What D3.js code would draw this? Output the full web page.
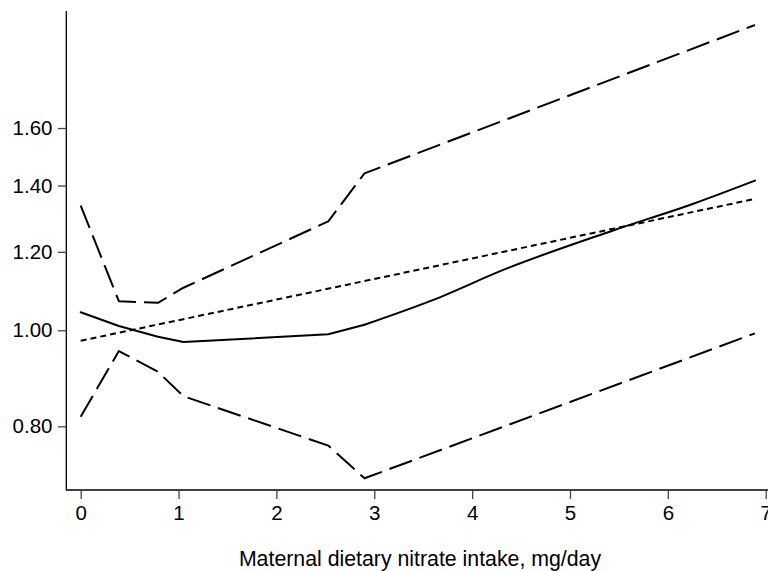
<!DOCTYPE html>
<html>
<head>
<meta charset="utf-8">
<script src="https://cdn.jsdelivr.net/npm/d3@7"></script>
<style>
  html, body { margin: 0; padding: 0; background: #fff; }
  svg { display: block; }
  text { font-family: "Liberation Sans", Arial, Helvetica, sans-serif; fill: #000; }
</style>
</head>
<body>
<svg id="chart" width="768" height="571"></svg>
<script>
// Nitrate intake (mg/day) at which each curve is evaluated
const splineX = [0, 0.39, 0.79, 1.05, 2.53, 2.9, 3.59, 4.35, 5.44, 6.26, 6.89];
// Restricted cubic spline estimate (odds ratio)
const splineOR = [1.043, 1.010, 0.985, 0.973, 0.991, 1.013, 1.072, 1.154, 1.261, 1.342, 1.416];

const ciX = [0, 0.39, 0.79, 1.05, 2.53, 2.9, 6.89];
// 95% confidence limits of the spline
const ciUpper = [1.336, 1.070, 1.066, 1.104, 1.288, 1.440, 2.033];
const ciLower = [0.818, 0.953, 0.908, 0.858, 0.765, 0.709, 0.993];

// Linear (log-linear) trend
const linearX = [0, 6.89];
const linearOR = [0.976, 1.357];

const xTicks = [0, 1, 2, 3, 4, 5, 6, 7];
const yTicks = [0.80, 1.00, 1.20, 1.40, 1.60];
const xTitle = "Maternal dietary nitrate intake, mg/day";

const svg = d3.select("#chart");

const x = d3.scaleLinear().domain([0, 7]).range([80.7, 765.7]);
const y = d3.scaleLog().domain([0.69, 2.1]).range([490, 11]);

const axisLeft = 66.3, axisBottom = 490;

// axis lines
svg.append("line")
  .attr("x1", axisLeft).attr("x2", axisLeft)
  .attr("y1", 11).attr("y2", axisBottom + 0.6)
  .attr("stroke", "#000").attr("stroke-width", 1.3);
svg.append("line")
  .attr("x1", axisLeft).attr("x2", 768)
  .attr("y1", axisBottom).attr("y2", axisBottom)
  .attr("stroke", "#000").attr("stroke-width", 1.3);

// x axis ticks and labels
const gx = svg.append("g")
  .attr("transform", `translate(0,${axisBottom})`)
  .call(d3.axisBottom(x).tickValues(xTicks).tickFormat(d3.format("d"))
        .tickSize(9).tickSizeOuter(0).tickPadding(6));
gx.select(".domain").remove();
gx.selectAll(".tick line").attr("stroke", "#444").attr("stroke-width", 1.3);
gx.selectAll(".tick text")
  .attr("font-size", 20.5)
  .attr("font-family", "Liberation Sans, Arial, sans-serif")
  .attr("fill", "#000");

// y axis ticks and labels
const gy = svg.append("g")
  .attr("transform", `translate(${axisLeft},0)`)
  .call(d3.axisLeft(y).tickValues(yTicks).tickFormat(d3.format(".2f"))
        .tickSize(8.3).tickSizeOuter(0).tickPadding(5.5));
gy.select(".domain").remove();
gy.selectAll(".tick line").attr("stroke", "#444").attr("stroke-width", 1.3);
gy.selectAll(".tick text")
  .attr("font-size", 20.5)
  .attr("font-family", "Liberation Sans, Arial, sans-serif")
  .attr("fill", "#000");

// axis title
svg.append("text")
  .attr("x", 420).attr("y", 566)
  .attr("text-anchor", "middle")
  .attr("font-size", 21.3)
  .text(xTitle);

const line = d3.line()
  .x(d => x(d[0]))
  .y(d => y(d[1]))
  .curve(d3.curveLinear);

const plot = svg.append("g").attr("fill", "none").attr("stroke", "#000")
  .attr("stroke-linejoin", "round").attr("stroke-linecap", "round");

plot.append("path")
  .datum(ciX.map((d, i) => [d, ciUpper[i]]))
  .attr("d", line)
  .attr("stroke-width", 2)
  .attr("stroke-linecap", "butt")
  .attr("stroke-dasharray", "24,8");

plot.append("path")
  .datum(ciX.map((d, i) => [d, ciLower[i]]))
  .attr("d", line)
  .attr("stroke-width", 2)
  .attr("stroke-linecap", "butt")
  .attr("stroke-dasharray", "24,8");

plot.append("path")
  .datum(linearX.map((d, i) => [d, linearOR[i]]))
  .attr("d", line)
  .attr("stroke-width", 2)
  .attr("stroke-linecap", "butt")
  .attr("stroke-dasharray", "6,4");

// spline estimate: straight pieces up to the 2.9 knot, smooth beyond it
const splinePts = splineX.map((d, i) => [d, splineOR[i]]);
const knot = splineX.indexOf(2.9);
plot.append("path")
  .datum(splinePts.slice(0, knot + 1))
  .attr("d", line.curve(d3.curveLinear))
  .attr("stroke-width", 2);
plot.append("path")
  .datum(splinePts.slice(knot))
  .attr("d", d3.line().x(d => x(d[0])).y(d => y(d[1])).curve(d3.curveMonotoneX))
  .attr("stroke-width", 2);
</script>
</body>
</html>
